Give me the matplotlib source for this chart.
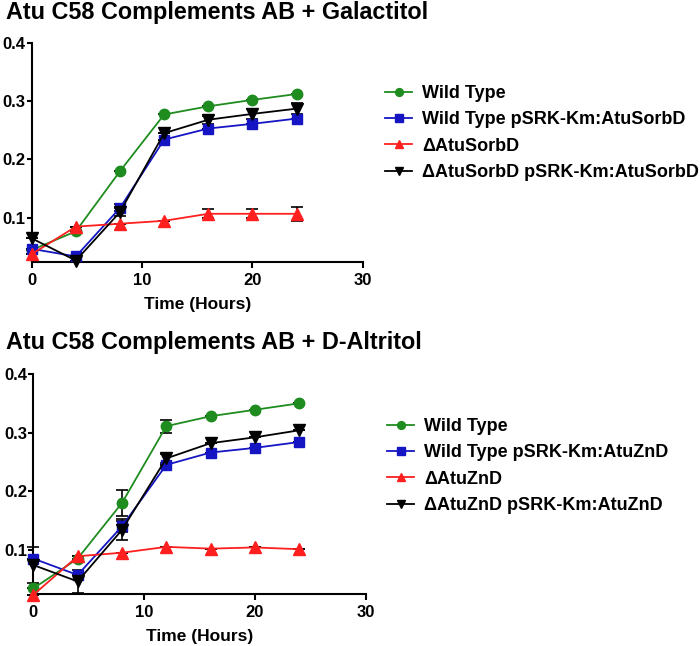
import matplotlib
matplotlib.use('Agg')
import matplotlib.pyplot as plt
import numpy as np

plt.rcParams['font.family'] = ['Liberation Sans', 'DejaVu Sans']
plt.rcParams['font.weight'] = 'bold'

hours = [0, 4, 8, 12, 16, 20, 24]

# Galactitol panel
gal_wt        = [0.045, 0.077, 0.180, 0.277, 0.291, 0.302, 0.312]
gal_wt_err    = [0.0, 0.0, 0.0, 0.0, 0.0, 0.0, 0.0]
gal_wtp       = [0.047, 0.034, 0.117, 0.234, 0.253, 0.261, 0.270]
gal_wtp_err   = [0.0, 0.0, 0.006, 0.0, 0.0, 0.0, 0.0]
gal_del       = [0.038, 0.085, 0.090, 0.095, 0.107, 0.107, 0.107]
gal_del_err   = [0.0, 0.0, 0.0, 0.0, 0.008, 0.008, 0.012]
gal_comp      = [0.065, 0.027, 0.110, 0.245, 0.268, 0.278, 0.287]
gal_comp_err  = [0.0, 0.0, 0.007, 0.0, 0.007, 0.009, 0.010]

# D-Altritol panel
alt_wt        = [0.034, 0.085, 0.180, 0.311, 0.328, 0.339, 0.350]
alt_wt_err    = [0.0, 0.0, 0.022, 0.011, 0.0, 0.0, 0.0]
alt_wtp       = [0.085, 0.057, 0.140, 0.245, 0.266, 0.274, 0.284]
alt_wtp_err   = [0.0, 0.0, 0.010, 0.0, 0.0, 0.0, 0.0]
alt_del       = [0.023, 0.089, 0.095, 0.105, 0.102, 0.104, 0.101]
alt_del_err   = [0.0, 0.0, 0.0, 0.0, 0.0, 0.0, 0.0]
alt_comp      = [0.074, 0.046, 0.134, 0.256, 0.282, 0.292, 0.304]
alt_comp_err  = [0.030, 0.020, 0.018, 0.008, 0.0, 0.0, 0.0]

colors  = ['#1f8c1f', '#1515c4', '#ff1f1f', 'black']
markers = ['o', 's', '^', 'v']
msizes  = [7.5, 7.5, 8, 8]

panels = [
    ('Atu C58 Complements AB + Galactitol',
     [gal_wt, gal_wtp, gal_del, gal_comp],
     [gal_wt_err, gal_wtp_err, gal_del_err, gal_comp_err],
     ['Wild Type', 'Wild Type pSRK-Km:AtuSorbD', '\u0394AtuSorbD',
      '\u0394AtuSorbD pSRK-Km:AtuSorbD'],
     [0.0453, 0.594, 0.473, 0.340], 13, (385, 85)),
    ('Atu C58 Complements AB + D-Altritol',
     [alt_wt, alt_wtp, alt_del, alt_comp],
     [alt_wt_err, alt_wtp_err, alt_del_err, alt_comp_err],
     ['Wild Type', 'Wild Type pSRK-Km:AtuZnD', '\u0394AtuZnD',
      '\u0394AtuZnD pSRK-Km:AtuZnD'],
     [0.0476, 0.080, 0.475, 0.341], 343, (387, 418)),
]

fig = plt.figure(figsize=(7, 6.46), dpi=100)

for title, series, errs, labels, rect, title_y, leg_xy in panels:
    ax = fig.add_axes(rect)
    handles = []
    for y, e, c, m, ms, lab in zip(series, errs, colors, markers, msizes, labels):
        ax.errorbar(hours, y, yerr=e, color=c, ecolor='black', elinewidth=1.2,
                    capsize=4, capthick=1.2, lw=1.2, fmt='none', clip_on=False, zorder=2)
        h, = ax.plot(hours, y, color=c, marker=m, ms=ms, lw=1.3,
                     clip_on=False, label=lab, zorder=3)
        handles.append(h)
    ax.set_xlim(0, 30)
    ax.set_ylim(0.024, 0.4)
    ax.set_xticks([0, 10, 20, 30])
    ax.set_yticks([0.1, 0.2, 0.3, 0.4])
    ax.set_yticklabels(['0.1', '0.2', '0.3', '0.4'])
    ax.spines['top'].set_visible(False)
    ax.spines['right'].set_visible(False)
    for s in ['left', 'bottom']:
        ax.spines[s].set_linewidth(1.5)
    ax.tick_params(axis='y', width=1.5, length=3.5, labelsize=12, pad=1)
    ax.tick_params(axis='x', width=1.5, length=4, labelsize=12, pad=4)
    ax.set_xlabel('Time (Hours)', fontsize=12.5, fontweight='bold', labelpad=6)
    fig.text(6 / 700, 1 - title_y / 646, title, fontsize=16.8, fontweight='bold',
             va='center', ha='left')
    ax.legend(handles=handles, loc='upper left',
              bbox_to_anchor=(leg_xy[0] / 700, 1 - leg_xy[1] / 646),
              bbox_transform=fig.transFigure, borderaxespad=0, borderpad=0,
              frameon=False, fontsize=13, handlelength=1.5, handletextpad=0.55,
              markerscale=0.75, labelspacing=0.52)

fig.savefig('out.png', dpi=100)
